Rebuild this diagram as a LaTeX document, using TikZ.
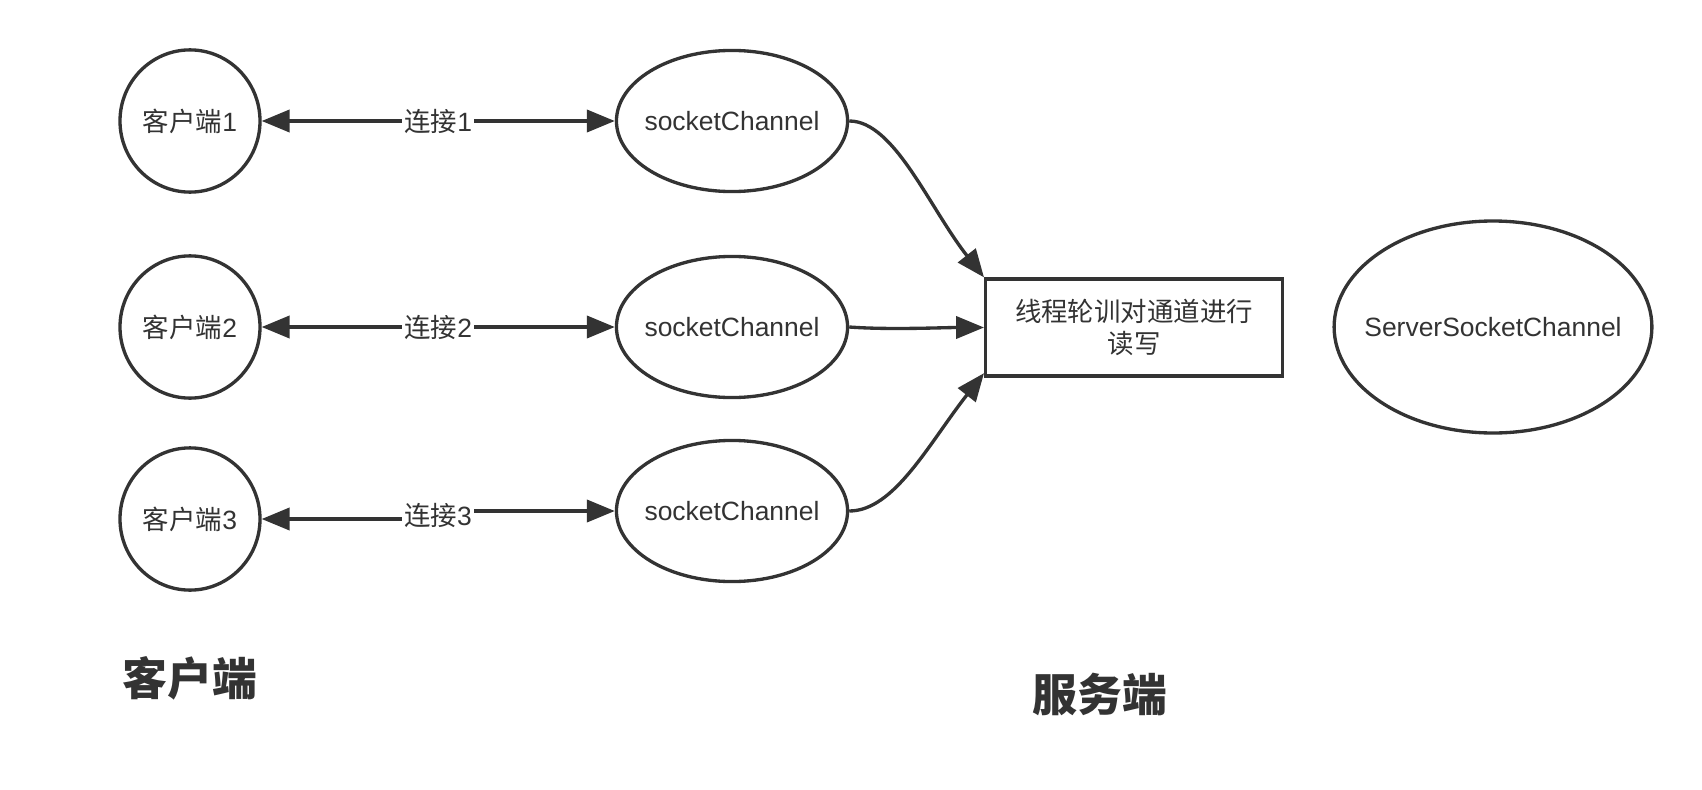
\documentclass[tikz,border=0pt]{standalone}
\usepackage{fontspec}
\setmainfont{Liberation Sans}
\newfontfamily\cjk{Noto Sans CJK SC}
\usetikzlibrary{positioning, arrows.meta, shapes.geometric}
\definecolor{ink}{HTML}{333333}

\begin{document}
\begin{tikzpicture}[x=0.45pt, y=-0.45pt, line width=1.5pt, draw=ink,
    every node/.style={font=\fontsize{11.9}{14.4}\selectfont, text=ink},
    client/.style={ellipse, draw=ink, inner sep=0pt, minimum width=63pt, minimum height=64pt},
    chan/.style={ellipse, draw=ink, inner sep=0pt, inner xsep=-20pt, minimum width=104pt, minimum height=63.5pt},
    tip/.style={-{Triangle[length=12.6pt, width=10pt]}, ink},
    both/.style={{Triangle[length=12.6pt, width=10pt]}-{Triangle[length=12.6pt, width=10pt]}, ink},
    lbl/.style={fill=white, inner sep=1pt},
    title/.style={font=\fontsize{20.2}{24}\selectfont\cjk\bfseries}]
                \useasboundingbox (0,0) rectangle (1702,789);

                % clients
                \node[client] (c1) at (190, 121) {{\cjk 客户端}1};
                \node[client] (c2) at (190, 327) {{\cjk 客户端}2};
                \node[client] (c3) at (190, 519) {{\cjk 客户端}3};

                % channels
                \node[chan] (s1) at (732, 121) {socketChannel};
                \node[chan] (s2) at (732, 327) {socketChannel};
                \node[chan] (s3) at (732, 511) {socketChannel};

                \node[rectangle, draw=ink, minimum width=133.5pt, minimum height=43.6pt, align=center] (poll) at (1134, 327.5) {\cjk 线程轮训对通道进行\\\cjk 读写};
                \node[chan, minimum width=143pt, minimum height=95.4pt] (srv) at (1493, 327) {ServerSocketChannel};

                \node[title] (tcli) at (190, 678) {客户端};
                \node[title] (tsrv) at (1100, 694) {服务端};

                \coordinate (k3) at (438, 515);

                \draw[both] (c1) -- node[lbl] {{\cjk 连接}1} (s1);
                \draw[both] (c2) -- node[lbl] {{\cjk 连接}2} (s2);
                \draw[both] (c3.east) -| (k3) node[lbl] {{\cjk 连接}3} |- (s3.west);

                \draw[tip] (s1.east) .. controls +(45,0) and +(-55,-70) .. (poll.north west);
                \draw[tip] (s2.east) .. controls +(40,3) and +(-40,0) .. (poll.west);
                \draw[tip] (s3.east) .. controls +(45,0) and +(-55,70) .. ([yshift=2pt]poll.south west);
            \end{tikzpicture}
\end{document}
